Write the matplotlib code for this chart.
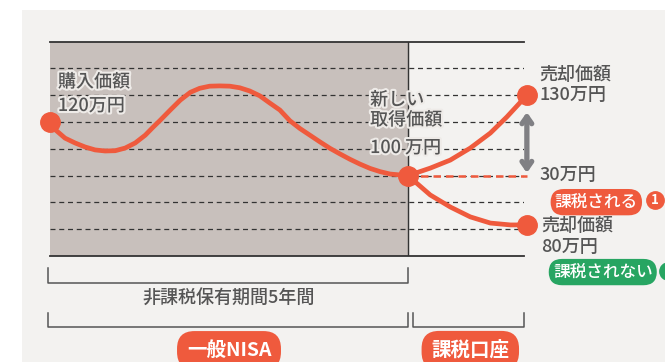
import matplotlib
matplotlib.use("Agg")
import matplotlib.pyplot as plt
import matplotlib.patheffects as pe
from matplotlib.patches import Rectangle
from matplotlib.transforms import blended_transform_factory

plt.rcParams['font.family'] = ['Noto Sans CJK JP', 'DejaVu Sans']

# ---- data (years on x, value in 万円 on y) ----
nisa_years = [0, 0.08, 0.21, 0.35, 0.49, 0.63, 0.77, 0.91, 1.05, 1.19, 1.33,
              1.44, 1.54, 1.68, 1.82, 1.96, 2.09, 2.23, 2.37, 2.51, 2.65, 2.79,
              2.93, 3.07, 3.21, 3.35, 3.49, 3.63, 3.77, 3.91, 4.05, 4.19, 4.33,
              4.47, 4.61, 4.75, 5.0]
nisa_values = [120, 117.0, 114.0, 112.2, 110.7, 109.6, 109.2, 109.3, 110.3,
               112.2, 115.1, 118.1, 120.7, 124.5, 128.2, 131.1, 132.6, 133.4,
               133.5, 133.4, 132.8, 131.6, 129.8, 127.1, 124.5, 120.5, 117.6,
               115.1, 112.6, 110.2, 108.1, 106.1, 104.3, 102.7, 101.5, 100.6, 100]
up_years = [5.0, 5.31, 5.59, 5.87, 6.15, 6.38, 6.66]
up_values = [100, 102.8, 105.8, 110.3, 115.9, 121.9, 130]
down_years = [5.0, 5.31, 5.59, 5.87, 6.15, 6.43, 6.66]
down_values = [100, 92.8, 88.3, 84.6, 82.3, 81.6, 81.6]
grid_values = [80, 90, 100, 110, 120, 130, 140]
nisa_end = 5.0
chart_end = 6.62
gain_range = [101, 123.7]

RED = '#ef5a3d'
GREEN = '#27a562'
TXT = '#555555'
SHADE = '#c8c0bc'
PANEL = '#f3f2f0'
W = 'medium'

fig = plt.figure(figsize=(6.65, 3.62), dpi=100)
fig.patch.set_facecolor('white')
fig.patches.append(Rectangle((22 / 665, 0), 1, 1 - 10 / 362, transform=fig.transFigure,
                             facecolor=PANEL, edgecolor='none', zorder=-10))

ax = fig.add_axes([50 / 665, 1 - 256 / 362, (524 - 50) / 665, (256 - 41.7) / 362])
ax.set_zorder(1)
ax.set_facecolor('none')
ax.set_xlim(0, chart_end)
ax.set_ylim(70, 150)
for s in ['left', 'right']:
    ax.spines[s].set_visible(False)
for s in ['top', 'bottom']:
    ax.spines[s].set_color('#333333')
    ax.spines[s].set_linewidth(1.3)
ax.set_xticks([])
ax.set_yticks([])

ax.axvspan(0, nisa_end, color=SHADE, zorder=1)
ax.axvline(nisa_end, color='#333333', lw=1.0, zorder=2)
for g in grid_values:
    ax.axhline(g, color='#333333', lw=0.9, ls=(0, (4, 3)), zorder=2)

halo = [pe.withStroke(linewidth=3, foreground='#eeebe8')]

# lines
for xs, ys in [(nisa_years, nisa_values), (up_years, up_values), (down_years, down_values)]:
    ax.plot(xs, ys, color=RED, lw=3.4, solid_capstyle='round',
            solid_joinstyle='round', zorder=4, clip_on=False)
ax.plot([nisa_end, up_years[-1]], [100, 100], color=RED, lw=1.8, ls=(0, (3, 2)),
        zorder=3, clip_on=False)

# markers
mx = [nisa_years[0], nisa_end, up_years[-1], down_years[-1]]
my = [nisa_values[0], 100, up_values[-1], down_values[-1]]
ax.plot(mx, my, 'o', color=RED, ms=14, zorder=5, clip_on=False)

# double arrow
ax.annotate('', xy=(up_years[-1], gain_range[0]), xytext=(up_years[-1], gain_range[1]),
            arrowprops=dict(arrowstyle='<->,head_length=0.5,head_width=0.35',
                            color='#808084', lw=3.8, shrinkA=0, shrinkB=0),
            zorder=4, annotation_clip=False)

# labels
lab = dict(fontsize=13, color=TXT, va='center', ha='left', fontweight=W)
ax.text(0.11, 134.9, '購入価額', path_effects=halo, zorder=6, **lab)
ax.text(0.11, 126.0, '120万円', path_effects=halo, zorder=6, **lab)
ax.text(4.47, 128.2, '新しい', path_effects=halo, zorder=6, **lab)
ax.text(4.47, 120.7, '取得価額', path_effects=halo, zorder=6, **lab)
ax.text(4.47, 110.3, '100 万円', path_effects=halo, zorder=6, **lab)

ax.text(6.84, 137.5, '売却価額', **lab)
ax.text(6.84, 130.1, '130万円', **lab)
ax.text(6.84, 100.3, '30万円', **lab)
ax.text(6.86, 81.2, '売却価額', **lab)
ax.text(6.86, 73.4, '80万円', **lab)

ax.text(7.63, 90.1, '課税される', fontsize=12, color='white', va='center', ha='center',
        fontweight=W,
        bbox=dict(boxstyle='round,pad=0.25,rounding_size=0.8', fc=RED, ec='none'))
ax.text(7.72, 64.0, '課税されない', fontsize=12, color='white', va='center', ha='center',
        fontweight=W,
        bbox=dict(boxstyle='round,pad=0.25,rounding_size=0.8', fc=GREEN, ec='none'))
ax.plot([8.45], [90.9], 'o', color=RED, ms=12.5, clip_on=False)
ax.text(8.45, 90.8, '1', fontsize=9.5, color='white', va='center', ha='center',
        fontweight='bold')
ax.plot([8.63], [64.5], 'o', color=GREEN, ms=12.5, clip_on=False)

# bottom brackets
tr = blended_transform_factory(ax.transData, ax.transAxes)
bk = dict(color='#555555', lw=1.1, clip_on=False, transform=tr)
ax.plot([-0.03, -0.03, nisa_end, nisa_end], [-0.056, -0.126, -0.126, -0.056], **bk)
ax.plot([-0.03, -0.03, nisa_end, nisa_end], [-0.266, -0.331, -0.331, -0.266], **bk)
ax.plot([5.07, 5.07, chart_end, chart_end], [-0.266, -0.331, -0.331, -0.266], **bk)
ax.text(2.49, -0.2, '非課税保有期間5年間', fontsize=13, color=TXT, ha='center',
        va='center', transform=tr, fontweight=W)
ax.text(2.5, -0.44, '一般NISA', fontsize=14, color='white', ha='center', va='center',
        transform=tr, fontweight='bold',
        bbox=dict(boxstyle='round,pad=0.5,rounding_size=0.9', fc=RED, ec='none'))
ax.text(5.87, -0.44, '課税口座', fontsize=14, color='white', ha='center', va='center',
        transform=tr, fontweight='bold',
        bbox=dict(boxstyle='round,pad=0.5,rounding_size=0.9', fc=RED, ec='none'))

fig.savefig('out.png', dpi=100)
